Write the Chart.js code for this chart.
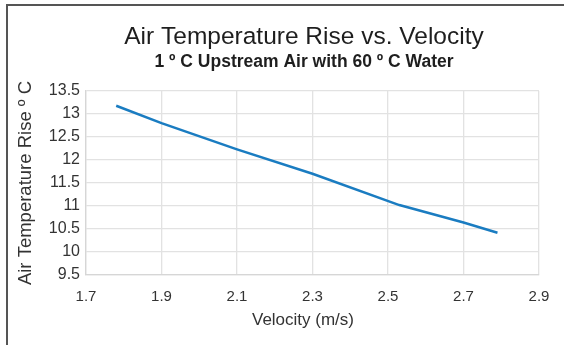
<!DOCTYPE html>
<html>
<head>
<meta charset="utf-8">
<script src="https://cdn.jsdelivr.net/npm/chart.js@4/dist/chart.umd.min.js"></script>
<style>
  html, body { margin: 0; padding: 0; background: #fff; }
  #wrap { position: relative; width: 564px; height: 345px; }
  #frame { position: absolute; left: 6px; top: 4px; right: -4px; bottom: -4px; border-top: 2px solid #555; border-left: 2px solid #555; pointer-events: none; }
  canvas { position: absolute; left: 0; top: 0; }
</style>
</head>
<body>
<div id="wrap">
  <canvas id="c" width="564" height="345"></canvas>
  <div id="frame"></div>
</div>
<script>
const titleText = "Air Temperature Rise vs. Velocity";
const subtitleText = "1 \u00BA C Upstream Air with 60 \u00BA C Water";
const xTitle = "Velocity (m/s)";
const yTitle = "Air Temperature Rise \u00BA C";

const velocity = [1.78, 1.9, 2.1, 2.3, 2.53, 2.7, 2.79];
const tempRise = [13.18, 12.8, 12.23, 11.7, 11.02, 10.64, 10.42];

const xTicks = [1.7, 1.9, 2.1, 2.3, 2.5, 2.7, 2.9];
const yTicks = [9.5, 10, 10.5, 11, 11.5, 12, 12.5, 13, 13.5];

const FONT = "'Liberation Sans', Arial, Helvetica, sans-serif";

const titlesPlugin = {
  id: 'titles',
  afterDraw(chart) {
    const ctx = chart.ctx;
    ctx.save();
    ctx.textAlign = 'center';
    ctx.textBaseline = 'middle';
    ctx.fillStyle = '#1e1e1e';
    ctx.font = "24.5px " + FONT;
    ctx.fillText(titleText, 304, 37);
    ctx.font = "bold 17.5px " + FONT;
    ctx.fillText(subtitleText, 304, 62);
    ctx.fillStyle = '#333';
    ctx.font = "17px " + FONT;
    ctx.fillText(xTitle, 303, 320);
    ctx.restore();
  }
};

new Chart(document.getElementById('c'), {
  type: 'line',
  data: {
    datasets: [{
      data: velocity.map((v, i) => ({ x: v, y: tempRise[i] })),
      borderColor: '#1a7cc1',
      borderWidth: 2.5,
      pointRadius: 0,
      tension: 0,
      fill: false
    }]
  },
  options: {
    responsive: false,
    animation: false,
    devicePixelRatio: 1,
    layout: { padding: { left: 0, right: 25, top: 91, bottom: 0 } },
    plugins: { legend: { display: false }, tooltip: { enabled: false } },
    scales: {
      x: {
        type: 'linear',
        min: xTicks[0],
        max: xTicks[xTicks.length - 1],
        afterBuildTicks: (s) => { s.ticks = xTicks.map(v => ({ value: v })); },
        afterFit: (s) => { s.height = 70; },
        grid: { color: '#e2e2e2', lineWidth: 1.3, drawTicks: false },
        border: { color: '#d6d6d6', width: 1.3 },
        ticks: {
          color: '#333',
          font: { family: FONT, size: 15 },
          padding: 13,
          maxRotation: 0,
          callback: (v) => String(v)
        }
      },
      y: {
        type: 'linear',
        min: yTicks[0],
        max: yTicks[yTicks.length - 1],
        afterBuildTicks: (s) => { s.ticks = yTicks.map(v => ({ value: v })); },
        afterFit: (s) => { s.width = 86; },
        grid: { color: '#e2e2e2', lineWidth: 1.3, drawTicks: false },
        border: { color: '#d6d6d6', width: 1.3 },
        ticks: {
          color: '#333',
          font: { family: FONT, size: 16 },
          padding: 6,
          callback: (v) => String(v)
        },
        title: {
          display: true,
          text: yTitle,
          color: '#333',
          font: { family: FONT, size: 18.5 },
          padding: { top: 15, bottom: 0 }
        }
      }
    }
  },
  plugins: [titlesPlugin]
});
</script>
</body>
</html>
